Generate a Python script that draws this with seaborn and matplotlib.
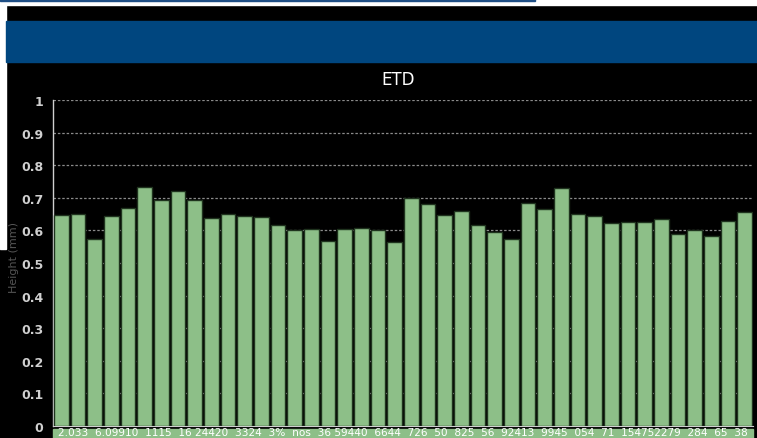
import numpy as np
import pandas as pd
import seaborn as sns
import matplotlib.pyplot as plt
from matplotlib.patches import Rectangle
from matplotlib.ticker import MultipleLocator

# bar heights (mm)
heights = [0.646, 0.651, 0.574, 0.644, 0.670, 0.734, 0.692, 0.721, 0.694, 0.639,
           0.651, 0.644, 0.640, 0.618, 0.600, 0.605, 0.567, 0.605, 0.608, 0.600,
           0.564, 0.698, 0.682, 0.647, 0.659, 0.618, 0.595, 0.575, 0.685, 0.667,
           0.731, 0.651, 0.643, 0.622, 0.627, 0.627, 0.635, 0.590, 0.600, 0.583,
           0.629, 0.655]
samples = [str(i + 1) for i in range(len(heights))]
ytick_vals = [0, 0.1, 0.2, 0.3, 0.4, 0.5, 0.6, 0.7, 0.8, 0.9, 1.0]
ytick_labels = ['0', '0.1', '0.2', '0.3', '0.4', '0.5', '0.6', '0.7', '0.8', '0.9', '1']
strip_text = ('2.033  6.09910  1115  16 24420  3324  3%  nos  36 59440  6644  726  50  '
              '825  56  92413  9945  054  71  154752279  284  65  38')
title = 'ETD'
ylabel = 'Height (mm)'

df = pd.DataFrame({'sample': samples, 'height': heights})

sns.set_style('dark')
plt.rcParams['font.family'] = ['DejaVu Sans']

W, H = 757, 439
fig = plt.figure(figsize=(W / 100, H / 100), dpi=100, facecolor='black')

# screenshot chrome: white top strip, thin blue line, blue header band
fig.patches.append(Rectangle((0, 1 - 6 / H), 1, 6 / H, transform=fig.transFigure,
                             color='white', zorder=0))
fig.patches.append(Rectangle((0, 1 - 2 / H), 535 / W, 2 / H, transform=fig.transFigure,
                             color='#1f4f86', zorder=1))
fig.patches.append(Rectangle((0, 1 - 250 / H), 6 / W, 244 / H, transform=fig.transFigure,
                             color='white', zorder=0))
fig.patches.append(Rectangle((6 / W, 1 - 63 / H), 1, 41 / H, transform=fig.transFigure,
                             color='#00467f', zorder=0))

ax = fig.add_axes([53 / W, (H - 427) / H, 700 / W, 326 / H])
ax.set_facecolor('black')

sns.barplot(data=df, x='sample', y='height', color='#8dbf88', saturation=1,
            width=0.88, edgecolor='#1f331e', linewidth=1.0, ax=ax, zorder=3)

ax.set_xlim(-0.5, len(heights) - 0.5)
ax.set_ylim(0, 1.0)
ax.set_yticks(ytick_vals)
ax.set_yticklabels(ytick_labels, color='#cfcfcf', fontsize=9, fontweight='bold')
ax.yaxis.set_minor_locator(MultipleLocator(0.02))
ax.tick_params(axis='y', which='major', length=4, color='#cfcfcf', pad=3)
ax.tick_params(axis='y', which='minor', length=2, color='#9a9a9a')
ax.set_xticks([])
ax.set_xlabel('')
ax.set_ylabel(ylabel, color='#555555', fontsize=8)
ax.yaxis.set_label_coords(-0.049, 0.52)

ax.grid(axis='y', color='#8a8a8a', linestyle=(0, (2, 1.5)), linewidth=0.9, zorder=0)
ax.grid(axis='x', visible=False)
for s in ['top', 'right']:
    ax.spines[s].set_visible(False)
ax.spines['left'].set_color('#cfcfcf')
ax.spines['bottom'].set_color('#cfcfcf')
ax.spines['left'].set_linewidth(1.0)

fig.text(398 / W, 1 - 80 / H, title, color='white', fontsize=12,
         ha='center', va='center')

# green label strip under the bars
fig.patches.append(Rectangle((53 / W, 0), 700 / W, 9 / H, transform=fig.transFigure,
                             color='#8dbf88', zorder=1))
fig.text(58 / W, 0.5 / H, strip_text, color='white', fontsize=7.6,
         ha='left', va='bottom', zorder=2)

fig.savefig('out.png', dpi=100, facecolor='black')
